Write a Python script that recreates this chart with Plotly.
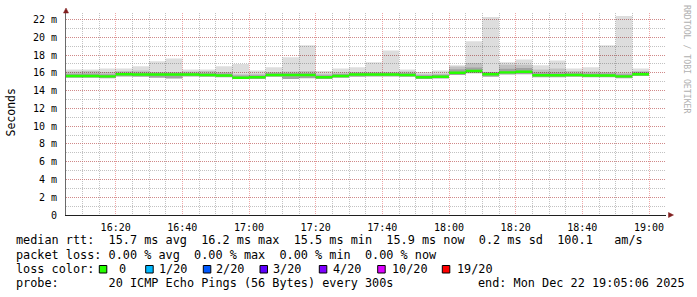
import plotly.graph_objects as go
import pandas as pd

# ---------------- data ----------------
bin_start = "2025-12-22 16:05"
bin_minutes = 5
view_start = "2025-12-22 16:05:06"
view_end = "2025-12-22 19:05:06"

median = [15.65, 15.65, 15.60, 15.84, 15.82, 15.80, 15.80, 15.80, 15.75, 15.70,
          15.45, 15.50, 15.75, 15.75, 15.75, 15.50, 15.65, 15.80, 15.80, 15.80,
          15.75, 15.50, 15.55, 16.00, 16.20, 15.85, 16.05, 16.12, 15.72, 15.72,
          15.75, 15.70, 15.70, 15.60, 15.85]
rtt_max = [16.37, 16.37, 16.48, 16.48, 16.74, 17.30, 17.60, 16.37, 16.37, 16.74,
           17.00, 16.25, 16.63, 17.75, 19.10, 16.20, 16.48, 16.63, 17.20, 18.50,
           16.37, 16.10, 16.25, 16.85, 19.56, 22.27, 17.20, 17.50, 16.85, 17.38,
           16.48, 16.63, 19.10, 22.40, 16.48]
rtt_min = [15.45, 15.45, 15.40, 15.60, 15.55, 15.45, 15.35, 15.60, 15.55, 15.50,
           15.30, 15.30, 15.55, 15.30, 15.40, 15.30, 15.45, 15.55, 15.60, 15.60,
           15.55, 15.30, 15.35, 15.75, 15.95, 15.55, 15.80, 15.85, 15.50, 15.50,
           15.55, 15.50, 15.50, 15.40, 15.65]
smoke_mid = [16.15, 16.20, 16.10, 16.20, 16.25, 16.10, 16.10, 16.15, 16.20, 16.10,
             15.85, 15.90, 16.10, 16.15, 16.20, 15.90, 16.05, 16.10, 16.10, 16.10,
             16.15, 15.85, 15.90, 16.70, 17.10, 16.10, 16.90, 16.90, 16.37, 16.48,
             16.20, 16.15, 16.10, 16.00, 16.20]
smoke_dark = [15.90, 15.92, 15.85, 16.05, 16.05, 16.02, 16.02, 16.02, 15.98, 15.95,
              15.70, 15.72, 15.98, 15.98, 15.98, 15.72, 15.88, 16.02, 16.02, 16.02,
              15.98, 15.72, 15.78, 16.40, 16.60, 16.08, 16.45, 16.55, 16.05, 16.05,
              15.98, 15.95, 15.95, 15.85, 16.08]

y_tickvals = list(range(0, 23, 2))
y_ticktext = ["0"] + [f"{v} m" for v in y_tickvals[1:]]

stats_line = "median rtt:  15.7 ms avg  16.2 ms max  15.5 ms min  15.9 ms now  0.2 ms sd  100.1   am/s"
loss_line = "packet loss: 0.00 % avg  0.00 % max  0.00 % min  0.00 % now"
probe_line = "probe:       20 ICMP Echo Pings (56 Bytes) every 300s"
end_line = "end: Mon Dec 22 19:05:06 2025"
loss_title = "loss color:"
loss_labels = ["0", "1/20", "2/20", "3/20", "4/20", "10/20", "19/20"]
loss_colors = ["#26ff00", "#00b8ff", "#0059ff", "#5e00ff", "#7e00ff", "#dd00ff", "#ff0000"]
y_title = "Seconds"
watermark = "RRDTOOL / TOBI OETIKER"

# ---------------- layout geometry ----------------
W, H = 697, 297
L, R, T, B = 66, 31, 13, 82
PW, PH = W - L - R, H - T - B
FONT = "DejaVu Sans Mono"
MEDIAN_HALF = 0.14


def px(x):
    return (x - L) / PW


def py(y):
    return (H - B - y) / PH


def nb(s):
    return s.replace(" ", "\u00a0")


edges = pd.date_range(bin_start, periods=len(median) + 1, freq=f"{bin_minutes}min")


def step(vals):
    return list(vals) + [vals[-1]]


fig = go.Figure()


def band(lo, hi, color):
    fig.add_trace(go.Scatter(x=edges, y=step(lo), mode="lines", line=dict(width=0, shape="hv"),
                             hoverinfo="skip", showlegend=False))
    fig.add_trace(go.Scatter(x=edges, y=step(hi), mode="lines", line=dict(width=0, shape="hv"),
                             fill="tonexty", fillcolor=color, hoverinfo="skip", showlegend=False))


band(rtt_min, rtt_max, "rgba(0,0,0,0.135)")
band(rtt_min, smoke_mid, "rgba(0,0,0,0.12)")
band(rtt_min, smoke_dark, "rgba(0,0,0,0.16)")
band([m - MEDIAN_HALF for m in median], [m + MEDIAN_HALF for m in median], loss_colors[0])

grid_minor = "rgba(143,143,143,0.55)"
grid_major = "rgba(222,79,79,0.5)"

fig.update_xaxes(
    type="date", range=[view_start, view_end],
    tick0="2025-12-22 16:00", dtick=20 * 60 * 1000, tickformat="%H:%M",
    showgrid=True, gridcolor=grid_major, gridwidth=1, griddash="1px,1px",
    minor=dict(tick0="2025-12-22 16:00", dtick=5 * 60 * 1000, showgrid=True,
               gridcolor=grid_minor, gridwidth=1, griddash="1px,1px"),
    showline=True, linecolor="#1f1f1f", linewidth=1, zeroline=False, ticks="",
    tickfont=dict(family=FONT, size=10, color="#000"),
    ticklabelstandoff=3, layer="above traces",
)
fig.update_yaxes(
    range=[0, PH / 8.886], tickvals=y_tickvals, ticktext=y_ticktext,
    showgrid=True, gridcolor=grid_major, gridwidth=1, griddash="1px,1px",
    minor=dict(dtick=1, tick0=0, showgrid=True, gridcolor=grid_minor, gridwidth=1, griddash="1px,1px"),
    showline=True, linecolor="#6a6a6a", linewidth=1, zeroline=False, ticks="",
    tickfont=dict(family=FONT, size=10, color="#000"),
    ticklabelstandoff=6, layer="above traces",
)

shapes = []
# arrows
shapes.append(dict(type="path", xref="paper", yref="paper", layer="above",
                   path=f"M {px(668.5):.5f},{py(212.5):.5f} L {px(673.5):.5f},{py(215):.5f} L {px(668.5):.5f},{py(217.5):.5f} Z",
                   fillcolor="#801f1f", line=dict(color="#801f1f", width=0.5)))
shapes.append(dict(type="path", xref="paper", yref="paper", layer="above",
                   path=f"M {px(63.5):.5f},{py(13):.5f} L {px(66):.5f},{py(8):.5f} L {px(68.5):.5f},{py(13):.5f} Z",
                   fillcolor="#801f1f", line=dict(color="#801f1f", width=0.5)))

annotations = []


def text(x, y, s, size=11.84, color="#000", anchor="left", angle=0):
    annotations.append(dict(xref="paper", yref="paper", x=px(x), y=py(y), text=nb(s),
                            showarrow=False, xanchor=anchor, yanchor="middle", textangle=angle,
                            font=dict(family=FONT, size=size, color=color), borderpad=0))


text(15, 240.5, stats_line)
text(15, 254.5, loss_line)
text(15, 268.8, loss_title)
text(15, 283.3, probe_line)
text(477, 283.3, end_line)

sq_x = [99.3, 145.7, 203.3, 260.0, 319.3, 377.7, 442.3]
lab_x = [118.0, 158.3, 215.0, 272.3, 331.7, 390.7, 455.7]
for sx, lx, lab, col in zip(sq_x, lab_x, loss_labels, loss_colors):
    shapes.append(dict(type="rect", xref="paper", yref="paper", x0=px(sx), x1=px(sx + 7.5),
                       y0=py(273), y1=py(265.5), fillcolor=col, line=dict(color="#000", width=1)))
    text(lx, 268.8, lab)

annotations.append(dict(xref="paper", yref="paper", x=px(10.5), y=py(113), text=y_title,
                        showarrow=False, textangle=-90, xanchor="center", yanchor="middle",
                        font=dict(family=FONT, size=11.5, color="#000")))
annotations.append(dict(xref="paper", yref="paper", x=px(687), y=py(59), text=nb(watermark),
                        showarrow=False, textangle=90, xanchor="center", yanchor="middle",
                        font=dict(family=FONT, size=8.2, color="#b0b0b0")))

fig.update_layout(
    width=W, height=H, margin=dict(l=L, r=R, t=T, b=B, pad=0),
    paper_bgcolor="#ffffff", plot_bgcolor="#ffffff",
    showlegend=False, shapes=shapes, annotations=annotations,
)

fig.write_html("out.html")
